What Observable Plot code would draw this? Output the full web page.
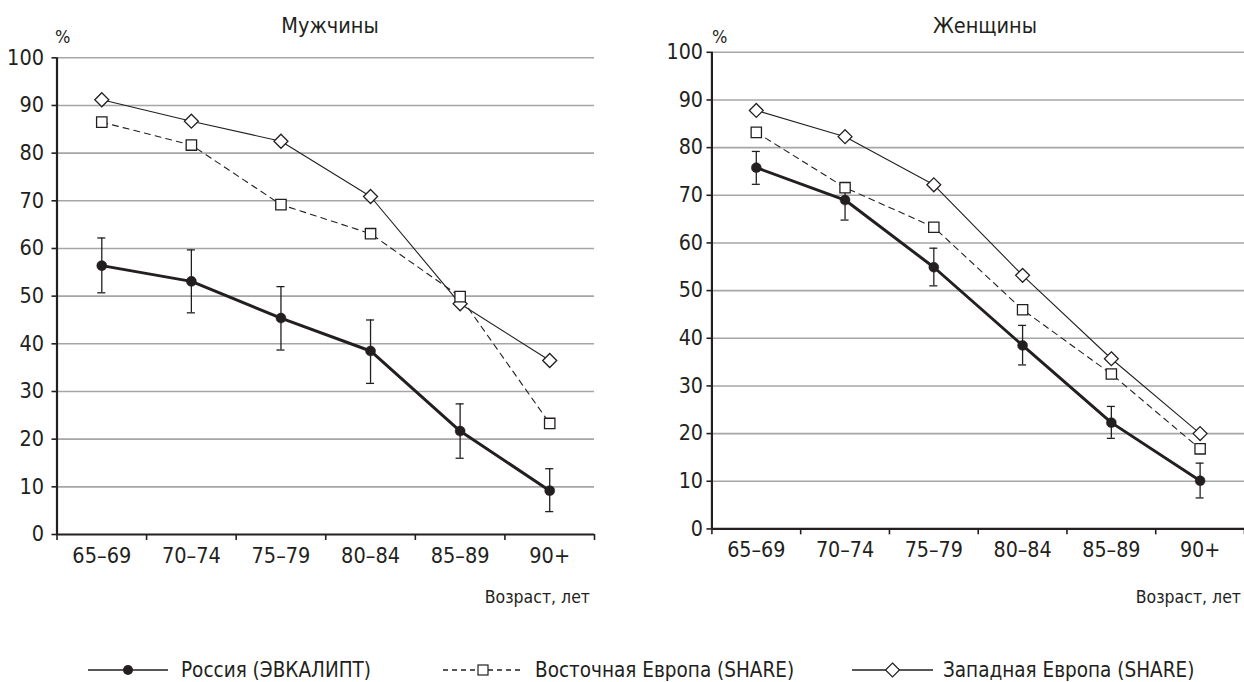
<!DOCTYPE html>
<html>
<head>
<meta charset="utf-8">
<script src="https://cdn.jsdelivr.net/npm/d3@7"></script>
<script src="https://cdn.jsdelivr.net/npm/@observablehq/plot@0.6"></script>
<style>
  body { margin: 0; background: #fff; }
  #wrap { position: relative; width: 1244px; height: 682px; overflow: hidden; background: #fff; }
  .panel { position: absolute; top: 0; }
  #overlay { position: absolute; left: 0; top: 0; pointer-events: none; }
</style>
</head>
<body>
<div id="wrap">
  <div class="panel" id="left" style="left:0px"></div>
  <div class="panel" id="right" style="left:620px"></div>
  <svg id="overlay" width="1244" height="682"></svg>
</div>
<script>
// ---------- data ----------
const ages = ["65–69", "70–74", "75–79", "80–84", "85–89", "90+"];
const yTicks = [0, 10, 20, 30, 40, 50, 60, 70, 80, 90, 100];

const panelTitles = ["Мужчины", "Женщины"];
const xAxisTitle = "Возраст, лет";
const yUnit = "%";
const seriesNames = ["Россия (ЭВКАЛИПТ)", "Восточная Европа (SHARE)", "Западная Европа (SHARE)"];

const menRussia   = [56.4, 53.1, 45.4, 38.5, 21.7, 9.2];
const menRussiaLo = [50.7, 46.5, 38.7, 31.7, 16.0, 4.8];
const menRussiaHi = [62.2, 59.7, 52.0, 45.0, 27.4, 13.8];
const menEast     = [86.5, 81.7, 69.2, 63.1, 49.9, 23.3];
const menWest     = [91.2, 86.7, 82.5, 70.9, 48.4, 36.5];

const womenRussia   = [75.8, 69.0, 54.9, 38.5, 22.3, 10.1];
const womenRussiaLo = [72.3, 64.8, 51.0, 34.4, 19.0, 6.5];
const womenRussiaHi = [79.2, 72.3, 58.9, 42.7, 25.7, 13.8];
const womenEast     = [83.2, 71.6, 63.3, 46.0, 32.5, 16.8];
const womenWest     = [87.8, 82.3, 72.2, 53.2, 35.7, 20.0];

// ---------- styling ----------
const FONT = '"Liberation Sans Narrow", "Arial Narrow", "DejaVu Sans Condensed", Roboto, sans-serif';
const INK = "#231f20";
const GRID = "#a6a6a6";

const diamondSym = { draw(ctx, size) { const r = Math.sqrt(size / Math.PI); ctx.moveTo(0, -r); ctx.lineTo(r, 0); ctx.lineTo(0, r); ctx.lineTo(-r, 0); ctx.closePath(); } };
const squareSym  = { draw(ctx, size) { const r = Math.sqrt(size / Math.PI); ctx.rect(-r, -r, 2 * r, 2 * r); } };

const idx = ages.map((d, i) => i);
const cx = i => i + 0.5;

function panel({ russia, lo, hi, east, west, width, marginLeft, marginRight, marginTop, marginBottom, tickPadY }) {
  return Plot.plot({
    width, height: 620,
    marginLeft, marginRight, marginTop, marginBottom,
    x: { domain: [0, ages.length] },
    y: { domain: [0, 100] },
    style: { fontFamily: FONT, fontSize: "21px", color: INK, background: "transparent", overflow: "visible" },
    marks: [
      Plot.ruleY(yTicks.filter(d => d > 0), { stroke: GRID, strokeWidth: 1.6 }),
      Plot.axisY({ ticks: yTicks, tickSize: 5, tickPadding: tickPadY, label: null, stroke: INK, strokeWidth: 1.6, fontSize: 21.5 }),
      Plot.axisX({ ticks: d3.range(ages.length + 1), tickSize: 6, tickFormat: () => "", label: null, stroke: INK, strokeWidth: 1.6 }),
      Plot.axisX({ ticks: idx.map(cx), tickSize: 0, tickPadding: 13, tickFormat: v => ages[Math.floor(v)], label: null, fontSize: 21.5 }),
      Plot.ruleX([0], { y1: 0, y2: 100, stroke: INK, strokeWidth: 2.2 }),
      Plot.ruleY([0], { stroke: INK, strokeWidth: 2.2 }),
      // error bars
      Plot.ruleX(idx, { x: cx, y1: i => lo[i], y2: i => hi[i], stroke: INK, strokeWidth: 1.3 }),
      Plot.ruleY(idx, { y: i => hi[i], x1: i => cx(i) - 0.045, x2: i => cx(i) + 0.045, stroke: INK, strokeWidth: 1.3 }),
      Plot.ruleY(idx, { y: i => lo[i], x1: i => cx(i) - 0.045, x2: i => cx(i) + 0.045, stroke: INK, strokeWidth: 1.3 }),
      // lines
      Plot.line(idx, { x: cx, y: i => west[i], stroke: INK, strokeWidth: 1.1 }),
      Plot.line(idx, { x: cx, y: i => east[i], stroke: INK, strokeWidth: 1.1, strokeDasharray: "6,5" }),
      Plot.line(idx, { x: cx, y: i => russia[i], stroke: INK, strokeWidth: 3 }),
      // markers
      Plot.dot(idx, { x: cx, y: i => west[i], symbol: diamondSym, r: 7, fill: "#fff", stroke: INK, strokeWidth: 1.3 }),
      Plot.dot(idx, { x: cx, y: i => east[i], symbol: squareSym, r: 5.2, fill: "#fff", stroke: INK, strokeWidth: 1.3 }),
      Plot.dot(idx, { x: cx, y: i => russia[i], symbol: "circle", r: 5, fill: INK, stroke: INK, strokeWidth: 0.5 })
    ]
  });
}

document.getElementById("left").appendChild(panel({
  russia: menRussia, lo: menRussiaLo, hi: menRussiaHi, east: menEast, west: menWest,
  width: 620, marginLeft: 56.5, marginRight: 26, marginTop: 57.3, marginBottom: 86, tickPadY: 8
}));
document.getElementById("right").appendChild(panel({
  russia: womenRussia, lo: womenRussiaLo, hi: womenRussiaHi, east: womenEast, west: womenWest,
  width: 630, marginLeft: 92.3, marginRight: 0, marginTop: 52.3, marginBottom: 86.5, tickPadY: 4
}));

// ---------- overlay texts & legend ----------
const ov = d3.select("#overlay").style("font-family", FONT).attr("fill", INK);
ov.append("text").attr("x", 330).attr("y", 33).attr("text-anchor", "middle").attr("font-size", 21.5).text(panelTitles[0]);
ov.append("text").attr("x", 985).attr("y", 33).attr("text-anchor", "middle").attr("font-size", 21.5).text(panelTitles[1]);
ov.append("text").attr("x", 55).attr("y", 43).attr("font-size", 18).text(yUnit);
ov.append("text").attr("x", 712).attr("y", 43).attr("font-size", 18).text(yUnit);
ov.append("text").attr("x", 590).attr("y", 603).attr("text-anchor", "end").attr("font-size", 17.5).text(xAxisTitle);
ov.append("text").attr("x", 1241).attr("y", 603).attr("text-anchor", "end").attr("font-size", 17.5).text(xAxisTitle);

const legendY = 670;
const legendItems = [
  { x0: 88, x1: 168, tx: 181, dash: null, kind: "circle" },
  { x0: 443, x1: 523, tx: 535, dash: "5,4", kind: "square" },
  { x0: 852, x1: 933, tx: 943, dash: null, kind: "diamond" }
];
legendItems.forEach((it, k) => {
  ov.append("line").attr("x1", it.x0).attr("x2", it.x1).attr("y1", legendY).attr("y2", legendY)
    .attr("stroke", INK).attr("stroke-width", 1.3).attr("stroke-dasharray", it.dash);
  const mx = (it.x0 + it.x1) / 2;
  if (it.kind === "circle") ov.append("circle").attr("cx", mx).attr("cy", legendY).attr("r", 5).attr("fill", INK);
  if (it.kind === "square") ov.append("rect").attr("x", mx - 5).attr("y", legendY - 5).attr("width", 10).attr("height", 10).attr("fill", "#fff").attr("stroke", INK).attr("stroke-width", 1.2);
  if (it.kind === "diamond") ov.append("path").attr("d", `M${mx},${legendY - 7}L${mx + 7},${legendY}L${mx},${legendY + 7}L${mx - 7},${legendY}Z`).attr("fill", "#fff").attr("stroke", INK).attr("stroke-width", 1.2);
  ov.append("text").attr("x", it.tx).attr("y", legendY + 7).attr("font-size", 20.5).text(seriesNames[k]);
});
</script>
</body>
</html>
